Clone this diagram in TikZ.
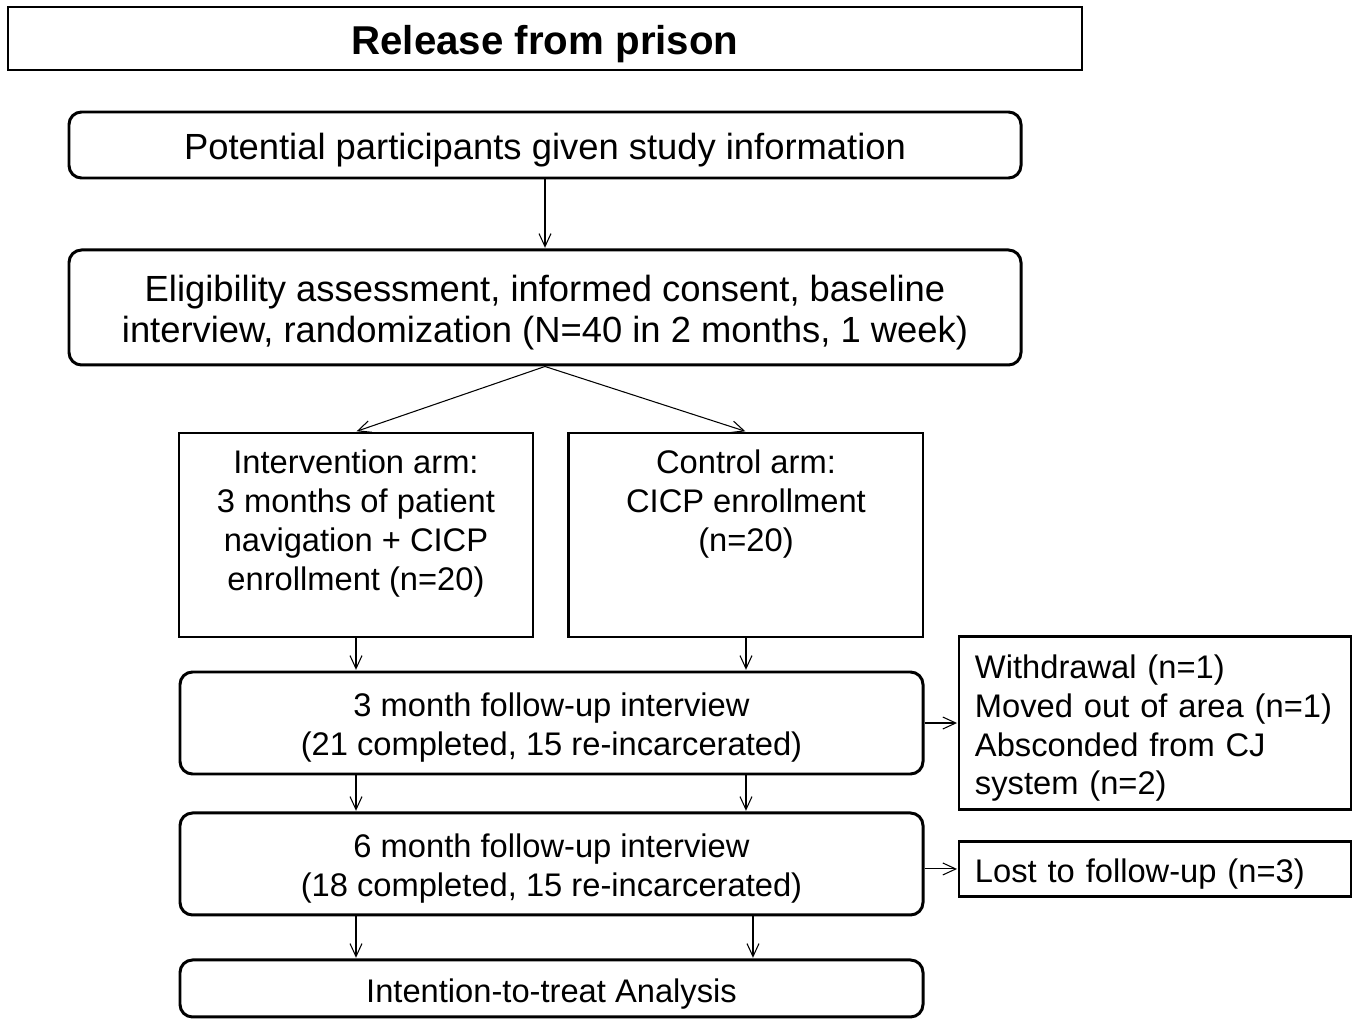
\documentclass[tikz,border=0pt]{standalone}
\usepackage{fontspec}
\setmainfont{Liberation Sans}
\usetikzlibrary{arrows.meta,positioning}

\newcommand{\bigfont}{\fontsize{20.7pt}{23.8pt}\selectfont}
\newcommand{\boxfont}{\fontsize{18.6pt}{22.1pt}\selectfont}

\begin{document}
\begin{tikzpicture}[->,>={Straight Barb[length=2.6mm,width=2.4mm]},shorten >=0.4pt,line width=0.6pt,
    one line/.style={text height=19.6pt,text depth=4pt},
    two lines/.style={text height=41.2pt,text depth=4pt},
    title node/.style={draw,line width=0.8pt,minimum width=21.48cm,minimum height=1.26cm,text height=23pt,text depth=4.9pt,font=\fontsize{22.9pt}{26pt}\selectfont\bfseries},
    step node/.style={draw,line width=1.7pt,rounded corners=0.25cm,align=center,font=\boxfont},
    arm node/.style={draw,line width=1.7pt,minimum width=7.08cm,font=\boxfont,inner ysep=0.34cm},
    loss node/.style={draw,line width=1.4pt,text width=7.2cm,inner xsep=0.32cm,align=left,font=\boxfont}]

  \useasboundingbox (0,0) rectangle (27.18,-20.38);

  \node[title node] (release) at (10.9,-0.77) {Release from prison};
  \node[step node,minimum width=19.04cm,minimum height=1.32cm,font=\bigfont,text height=20.4pt,text depth=4.4pt] (info) at (10.9,-2.90) {Potential participants given study information};
  \node[step node,minimum width=19.04cm,minimum height=2.30cm,font=\bigfont,text height=44.8pt,text depth=4.4pt] (elig) [below=1.38cm of info] {Eligibility assessment, informed consent, baseline\\interview, randomization (N=40 in 2 months, 1 week)};
  \node[arm node] (interv) at (7.12,-10.70) {\parbox[t][3.40cm][t]{6.6cm}{\centering Intervention arm:\\3 months of patient\\navigation + CICP\\enrollment (n=20)}};
  \node[arm node] (ctrl) [right=0.66cm of interv] {\parbox[t][3.40cm][t]{6.6cm}{\centering Control arm:\\CICP enrollment\\(n=20)}};
  \node[step node,two lines,minimum width=14.86cm,minimum height=2.04cm] (fu3) at (11.03,-14.46) {3 month follow-up interview\\(21 completed, 15 re-incarcerated)};
  \node[step node,two lines,minimum width=14.86cm,minimum height=2.04cm] (fu6) [below=0.72cm of fu3] {6 month follow-up interview\\(18 completed, 15 re-incarcerated)};
  \node[step node,one line,minimum width=14.86cm,minimum height=1.14cm] (itt) [below=0.84cm of fu6] {Intention-to-treat Analysis};
  \node[loss node,minimum height=3.46cm,text height=19.6pt,text depth=70.3pt] (lost3) [right=0.665cm of fu3] {Withdrawal (n=1)\\Moved out of area (n=1)\\Absconded from CJ\\system (n=2)};
  \node[loss node,one line,minimum height=1.10cm] (lost6) [below=0.59cm of lost3] {Lost to follow-up (n=3)};

  \path (info) edge (elig)
        (elig.south) edge (interv.north)
        (elig.south) edge (ctrl.north)
        (interv.south) edge (interv.south |- fu3.north)
        (ctrl.south) edge (ctrl.south |- fu3.north)
        (fu3.south -| interv) edge (fu6.north -| interv)
        (fu3.south -| ctrl) edge (fu6.north -| ctrl)
        (fu6.south -| interv) edge (itt.north -| interv)
        ([xshift=0.14cm]fu6.south -| ctrl) edge ([xshift=0.14cm]itt.north -| ctrl)
        (fu3.east) edge (lost3.west)
        (lost6.west -| fu6.east) edge (lost6.west);

\end{tikzpicture}
\end{document}
